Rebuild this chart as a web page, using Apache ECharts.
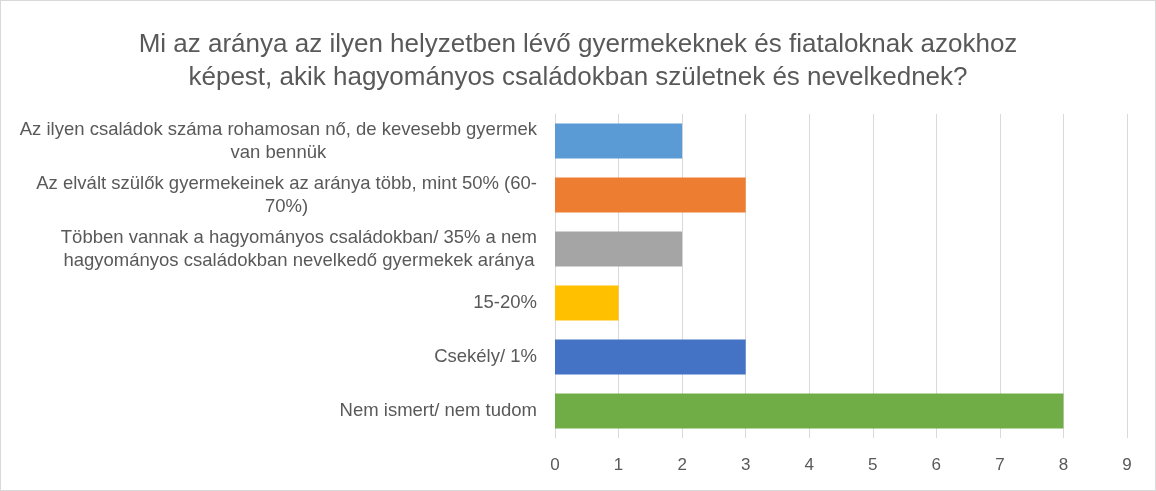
<!DOCTYPE html>
<html>
<head>
<meta charset="utf-8">
<script src="https://cdn.jsdelivr.net/npm/echarts@6/dist/echarts.min.js"></script>
<style>
html,body{margin:0;padding:0;background:#fff;}
#wrap{position:relative;width:1156px;height:491px;}
#chart{position:absolute;left:0;top:0;width:1156px;height:491px;}
#frame{position:absolute;left:0;top:0;width:1156px;height:491px;box-sizing:border-box;border:1px solid #d9d9d9;pointer-events:none;}
</style>
</head>
<body>
<div id="wrap"><div id="chart"></div><div id="frame"></div></div>
<script>
const titleText = 'Mi az aránya az ilyen helyzetben lévő gyermekeknek és fiataloknak azokhoz\nképest, akik hagyományos családokban születnek és nevelkednek?';
const categories = [
  'Az ilyen családok száma rohamosan nő, de kevesebb gyermek\nvan bennük',
  'Az elvált szülők gyermekeinek az aránya több, mint 50% (60-\n70%)',
  'Többen vannak a hagyományos családokban/ 35% a nem\nhagyományos családokban nevelkedő gyermekek aránya',
  '15-20%',
  'Csekély/ 1%',
  'Nem ismert/ nem tudom'
];
const values = [2, 3, 2, 1, 3, 8];
const barColors = ['#5B9BD5', '#ED7D31', '#A5A5A5', '#FFC000', '#4472C4', '#70AD47'];
const xTicks = [0, 1, 2, 3, 4, 5, 6, 7, 8, 9];

const chart = echarts.init(document.getElementById('chart'));
const FONT = 'Liberation Sans';
chart.setOption({
  animation: false,
  backgroundColor: '#ffffff',
  title: {
    text: titleText,
    left: 'center',
    top: 23,
    textStyle: {
      fontFamily: FONT,
      fontSize: 26,
      fontWeight: 'normal',
      color: '#595959',
      lineHeight: 33
    }
  },
  grid: { left: 555, right: 29, top: 114, bottom: 53, containLabel: false },
  xAxis: {
    type: 'value',
    min: xTicks[0],
    max: xTicks[xTicks.length - 1],
    interval: 1,
    axisLine: { show: false },
    axisTick: { show: false },
    splitLine: { show: true, lineStyle: { color: '#d9d9d9', width: 1 } },
    axisLabel: { color: '#595959', fontFamily: FONT, fontSize: 17, margin: 19 }
  },
  yAxis: {
    type: 'category',
    inverse: true,
    data: categories,
    axisLine: { show: true, lineStyle: { color: '#d9d9d9', width: 1 } },
    axisTick: { show: false },
    axisLabel: {
      margin: 18,
      align: 'right',
      formatter: function (v) {
        return v.split('\n').map(function (s) { return '{c|' + s + '}'; }).join('\n');
      },
      rich: {
        c: { align: 'center', color: '#595959', fontFamily: FONT, fontSize: 18.5, lineHeight: 23 }
      }
    }
  },
  series: [{
    type: 'bar',
    data: values.map(function (v, i) { return { value: v, itemStyle: { color: barColors[i] } }; }),
    barCategoryGap: '35%'
  }]
});
</script>
</body>
</html>
